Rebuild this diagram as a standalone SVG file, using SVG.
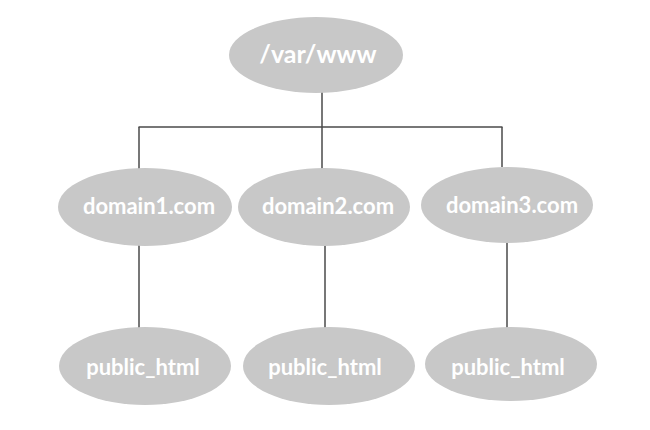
<svg xmlns="http://www.w3.org/2000/svg" width="650" height="430" viewBox="0 0 650 430">
<style>
.node ellipse{fill:#c8c8c8;}
.node text{fill:#ffffff;font-family:Lato,"Open Sans","DejaVu Sans",sans-serif;font-weight:bold;font-size:22px;text-anchor:middle;}
#connectors line{stroke:#4a4a4a;stroke-width:1.5;}
</style>
<rect width="650" height="430" fill="#ffffff"/>
<g id="connectors">
<line x1="322" y1="92" x2="322" y2="127"/>
<line x1="138.5" y1="127" x2="502.5" y2="127"/>
<line x1="139" y1="127" x2="139" y2="169"/>
<line x1="322" y1="127" x2="322" y2="169"/>
<line x1="502" y1="127" x2="502" y2="167"/>
<line x1="139" y1="245" x2="139" y2="328"/>
<line x1="325" y1="245" x2="325" y2="328"/>
<line x1="507" y1="242" x2="507" y2="328"/>
</g>
<g id="root" class="node">
<ellipse cx="316" cy="55" rx="87" ry="38"/>
<text x="318" y="63" style="font-size:25px">/var/www</text>
</g>
<g id="domain1" class="node">
<ellipse cx="145" cy="207" rx="87" ry="39"/>
<text x="149" y="214">domain1.com</text>
</g>
<g id="domain2" class="node">
<ellipse cx="324" cy="207" rx="86" ry="39"/>
<text x="328" y="214">domain2.com</text>
</g>
<g id="domain3" class="node">
<ellipse cx="507" cy="205" rx="86" ry="38"/>
<text x="512" y="213">domain3.com</text>
</g>
<g id="public1" class="node">
<ellipse cx="145" cy="366" rx="86" ry="39"/>
<text x="143" y="375">public_html</text>
</g>
<g id="public2" class="node">
<ellipse cx="329" cy="366" rx="86" ry="39"/>
<text x="325" y="375">public_html</text>
</g>
<g id="public3" class="node">
<ellipse cx="511" cy="364" rx="86" ry="37"/>
<text x="508" y="375">public_html</text>
</g>
</svg>
